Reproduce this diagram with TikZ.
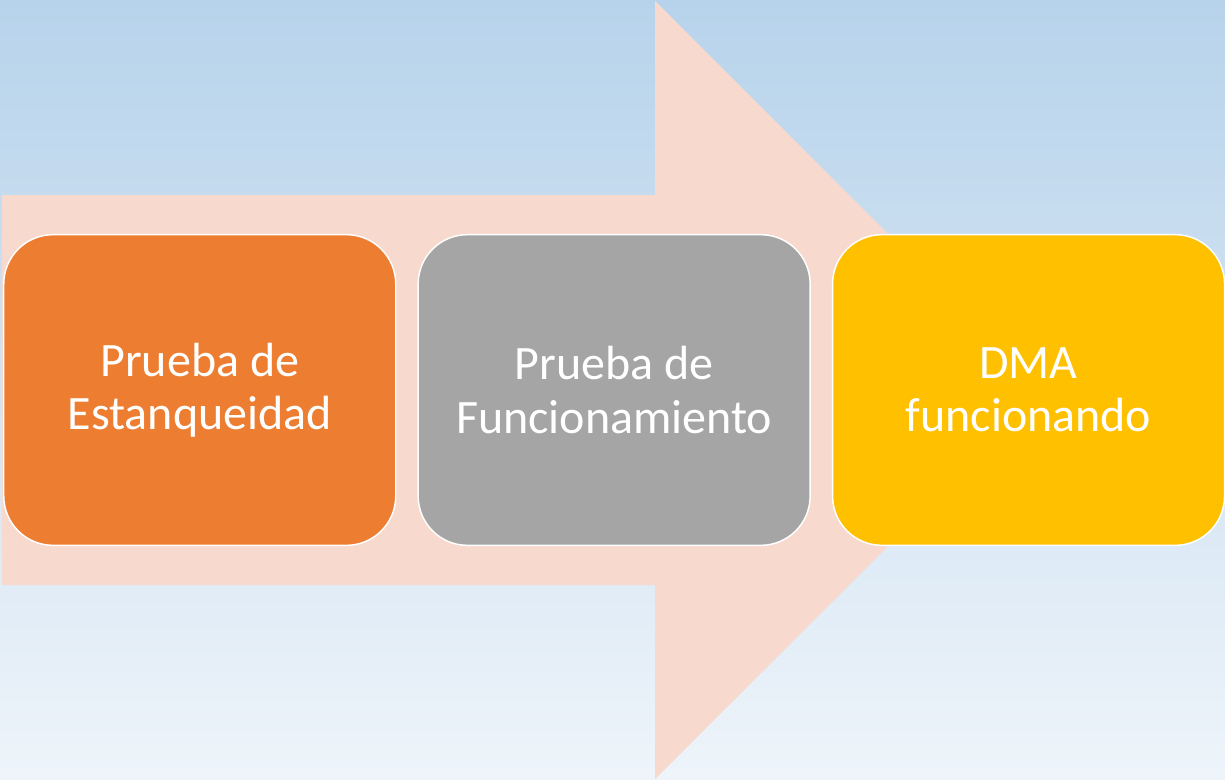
\documentclass[tikz,border=0pt]{standalone}
\usepackage{fontspec}
\setmainfont{Carlito}
\usetikzlibrary{positioning}

\definecolor{bgtop}{HTML}{B7D3EB}
\definecolor{bgbottom}{HTML}{EEF4FA}
\definecolor{arrowfill}{HTML}{F8D9CE}
\definecolor{stepone}{HTML}{ED7D31}
\definecolor{steptwo}{HTML}{A5A5A5}
\definecolor{stepthree}{HTML}{FFC000}

\begin{document}
\begin{tikzpicture}[
      x=0.75pt, y=-0.75pt,
      stagebox/.style = {rounded corners=37pt, draw=white, line width=1.1pt,
         minimum width=294pt, minimum height=233pt, outer sep=0pt,
         text=white, align=center,
         font=\fontsize{36}{40}\selectfont},
      node distance=16.8pt
]
   % background
   \shade[top color=bgtop, bottom color=bgbottom]
      (0,0) rectangle (1225,779);
   \useasboundingbox (0,0) rectangle (1225,779);

   % big arrow
   \fill[arrowfill] (2,195) -- (655,195) -- (655,1) -- (1044,390)
      -- (655,779) -- (655,585) -- (2,585) -- cycle;

   % stages
   \node[stagebox, fill=stepone, anchor=west] (estanq) at (3.75,390)
      {Prueba de\\Estanqueidad};
   \node[stagebox, fill=steptwo, right=of estanq] (funcion)
      {Prueba de\\Funcionamiento};
   \node[stagebox, fill=stepthree, right=of funcion] (dma)
      {DMA\\funcionando};
\end{tikzpicture}
\end{document}
